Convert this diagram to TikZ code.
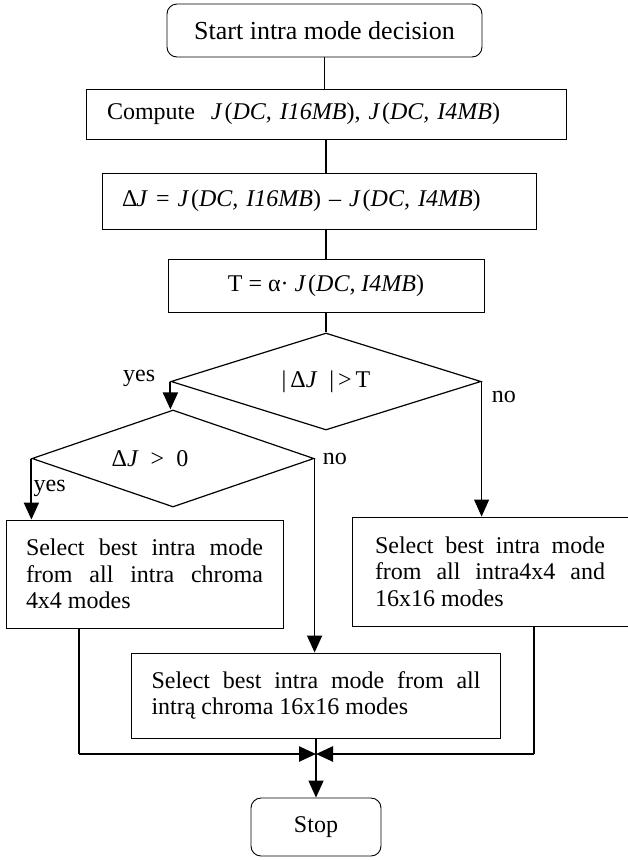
\documentclass[tikz,border=0pt]{standalone}
\usepackage{fontspec}
\setmainfont{Liberation Serif}
\usetikzlibrary{arrows.meta,shapes.geometric,calc}
\hyphenpenalty=10000
\exhyphenpenalty=10000
\newcommand{\Jof}[1]{\textit{J}\kern2pt(\textit{#1})}

\begin{document}
\begin{tikzpicture}[x=1pt,y=-1pt,
  font=\fontsize{24}{26.5}\selectfont,
  box/.style={draw,line width=0.9pt,inner ysep=0pt},
  term/.style={box,rounded corners=10pt},
  dec/.style={draw,diamond,line width=1.2pt,inner sep=0pt,aspect=3.2},
  lbl/.style={inner sep=0pt},
  flow/.style={-{Triangle[length=17pt,width=15pt]}}]
\useasboundingbox (0,0) rectangle (627,860);
\node[term,minimum width=315,minimum height=53,font=\fontsize{26}{28}\selectfont] (start) at (324.5,30.5) {Start intra mode decision};
\node[box,text width=438,inner xsep=21,align=left,minimum height=50] (comp) at (326,114)
  {Compute\ \ \Jof{DC, I16MB}, \Jof{DC, I4MB}};
\node[box,text width=394,inner xsep=20,align=left,minimum height=56] (dj) at (319,201)
  {Δ\kern-1pt\textit{J} = \Jof{DC, I16MB} – \Jof{DC, I4MB}};
\node[box,minimum width=316,minimum height=53] (thr) at (326,285.5)
  {T = α· \Jof{DC, I4MB}};
\node[dec,minimum width=310,minimum height=97] (d1) at (326,381.5)
  {|\,Δ\textit{J}\enspace|\,>\,T};
\node[dec,minimum width=282,minimum height=97,
  label={[xshift=-23pt]center:Δ\textit{J}\enspace>\enspace0}] (d2) at (173,458.5) {};
\node[box,text width=237,inner xsep=20,align=justify,minimum height=108] (lbox) at (144.5,574)
  {Select best intra mode from all intra chroma 4x4 modes};
\node[box,text width=230,inner xsep=21,align=justify,minimum width=276,minimum height=109] (rbox) at (490,571.5)
  {Select best intra mode from all intra4x4 and 16x16 modes};
\node[box,text width=329,inner xsep=20,align=justify,minimum height=85] (mbox) at (316,695.5)
  {Select best intra mode from all intrą chroma 16x16 modes};
\node[term,minimum width=130,minimum height=58] (stop) at (316,827) {Stop};

\node[lbl,anchor=base east] (yes1) at ($(d1.west)+(-15,0)$) {yes};
\node[lbl,anchor=base west] (no1) at ($(d1.east)+(10,21)$) {no};
\node[lbl,anchor=base west] (no2) at ($(d2.east)+(8,6)$) {no};
\node[lbl,anchor=base west] (yes2) at ($(d2.west)+(2,33)$) {yes};

\coordinate (join) at (316,754);
\coordinate (lturn) at (79,754);
\coordinate (rturn) at (534,754);

\draw[line width=1pt] (start.south) -- (start.south |- comp.north);
\draw[line width=2.6pt] (comp.south) -- (comp.south |- dj.north);
\draw[line width=1.2pt] (thr.north |- dj.south) -- (thr.north);
\draw[line width=2.2pt] (thr.south) -- (d1.north);
\draw[flow,line width=2pt] (d1.west) -- (d1.west |- d2.north);
\draw[flow,line width=1pt] (d1.east) -- (d1.east |- rbox.north);
\draw[flow,line width=2pt] (d2.west) -- (d2.west |- lbox.north);
\draw[flow,line width=1.5pt] (d2.east) -- (d2.east |- mbox.north);
\draw[line width=1.6pt] (lbox.south -| lturn) -- (lturn);
\draw[line width=1.6pt] (rbox.south -| rturn) -- (rturn);
\draw[flow,line width=2.6pt] (lturn) -- (join);
\draw[flow,line width=2.6pt] (rturn) -- (join);
\draw[flow,line width=1.5pt] (mbox.south) -- (stop.north);
\end{tikzpicture}
\end{document}
